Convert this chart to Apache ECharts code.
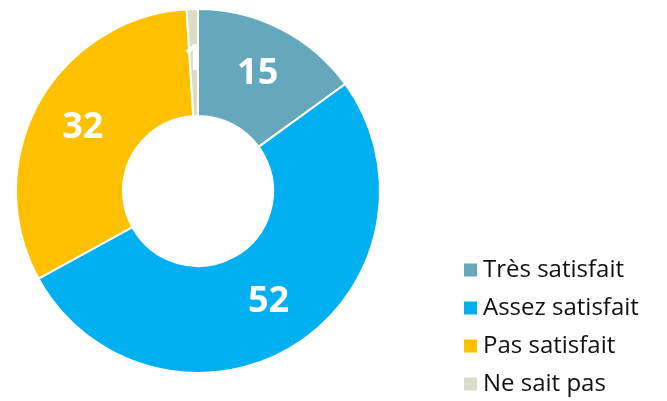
<!DOCTYPE html>
<html>
<head>
<meta charset="utf-8">
<script src="https://cdn.jsdelivr.net/npm/echarts@6/dist/echarts.min.js"></script>
<style>
  html, body { margin: 0; padding: 0; background: #fff; }
  #chart { width: 667px; height: 401px; }
</style>
</head>
<body>
<div id="chart"></div>
<script>
  const categories = ["Très satisfait", "Assez satisfait", "Pas satisfait", "Ne sait pas"];
  const values = [15, 52, 32, 1];
  const colors = ["#65A8BC", "#00B0F0", "#FFC000", "#DCDDC6"];

  const chart = echarts.init(document.getElementById("chart"), null, { renderer: "canvas" });
  chart.setOption({
    animation: false,
    color: colors,
    legend: {
      orient: "vertical",
      left: 457,
      top: 253,
      itemWidth: 15,
      itemHeight: 15,
      itemGap: 14,
      icon: "rect",
      selectedMode: false,
      textStyle: { fontFamily: "'Open Sans'", fontSize: 24, color: "#111" },
      data: categories
    },
    series: [{
      type: "pie",
      center: [198, 191],
      radius: [75, 182],
      startAngle: 90,
      clockwise: true,
      avoidLabelOverlap: false,
      itemStyle: { borderColor: "#fff", borderWidth: 2 },
      label: {
        show: true,
        position: "inside",
        formatter: "{c}",
        color: "#fff",
        fontFamily: "'Open Sans'",
        fontWeight: "bold",
        fontSize: 36
      },
      labelLine: { show: false },
      data: categories.map(function (c, i) { return { name: c, value: values[i] }; })
    }]
  });
</script>
</body>
</html>
